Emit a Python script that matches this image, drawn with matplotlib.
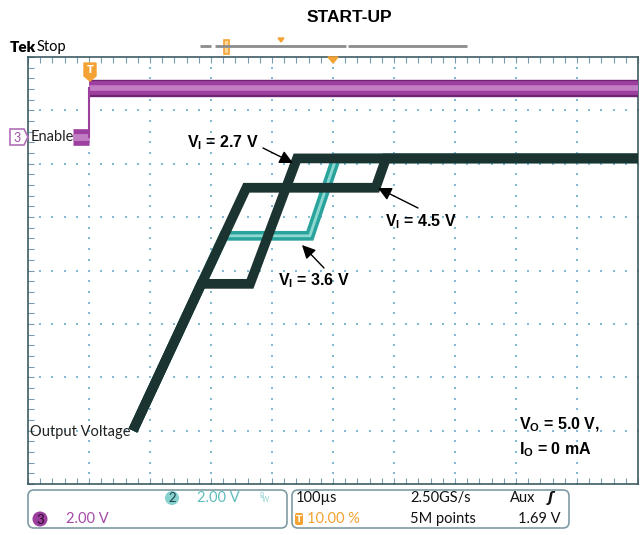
import numpy as np
import matplotlib
matplotlib.use('Agg')
import matplotlib.pyplot as plt
from matplotlib.patches import FancyBboxPatch, Polygon, Circle, Rectangle
from matplotlib.ticker import MultipleLocator

plt.rcParams['mathtext.fontset'] = 'custom'
plt.rcParams['mathtext.rm'] = 'Liberation Sans'
plt.rcParams['mathtext.bf'] = 'Liberation Sans:bold'
plt.rcParams['mathtext.it'] = 'Liberation Sans:italic'

# ---------------- data ----------------
# Enable (channel 3), time in us, volts
en_time_low = [-26, 0]
en_volt_low = [0.0, 0.0]
en_time_high = [0, 900]
en_volt_high = [1.85, 1.85]

# Output voltage traces (time in us, volts)
t_vi27 = [72, 184, 264, 341, 900]
v_vi27 = [0.0, 2.75, 2.75, 5.1, 5.1]
t_vi36 = [72, 221, 362, 405, 900]
v_vi36 = [0.0, 3.65, 3.65, 5.1, 5.1]
t_vi45 = [72, 258, 470, 487, 900]
v_vi45 = [0.0, 4.55, 4.55, 5.1, 5.1]

title = "START-UP"
lbl_27 = r"$\mathbf{V_I}$ = 2.7 V"
lbl_36 = r"$\mathbf{V_I}$ = 3.6 V"
lbl_45 = r"$\mathbf{V_I}$ = 4.5 V"
lbl_vo = r"$\mathbf{V_O}$ = 5.0 V,"
lbl_io = r"$\mathbf{I_O}$ = 0 mA"

W, H = 642, 535
BLACK_TR = '#1b3331'
CYAN_TR = '#2aa39d'
PURPLE = '#9c3f9e'
ORANGE = '#f4a233'
GRID = '#86b9d3'
NARROW = ['Lato', 'DejaVu Sans']

fig = plt.figure(figsize=(W / 100, H / 100), dpi=100)
fig.patch.set_facecolor('white')

# --------------- graticule axes ---------------
ax = fig.add_axes([28 / W, (H - 484) / H, 610 / W, 427 / H])
ax.set_xlim(-100, 900)
ax.set_ylim(-1, 7)
ax.set_facecolor('white')
for s in ax.spines.values():
    s.set_color('#3d5c62')
    s.set_linewidth(1.2)
ax.xaxis.set_major_locator(MultipleLocator(100))
ax.xaxis.set_minor_locator(MultipleLocator(20))
ax.yaxis.set_major_locator(MultipleLocator(1))
ax.yaxis.set_minor_locator(MultipleLocator(0.2))
ax.tick_params(which='both', direction='in', top=True, right=True,
               labelbottom=False, labelleft=False, color='#7a9cb0', length=4, width=0.8)

# dotted grid
for xv in np.arange(0, 900, 100):
    ys = np.arange(-1, 7.01, 0.2)
    ax.plot(np.full_like(ys, xv), ys, ls='none', marker='s', ms=1.6, mew=0, color=GRID, zorder=1)
for yv in np.arange(0, 7, 1):
    xs = np.arange(-100, 900.1, 20)
    ax.plot(xs, np.full_like(xs, yv, dtype=float), ls='none', marker='s', ms=1.6, mew=0, color=GRID, zorder=1)

# traces
ax.plot(t_vi36, v_vi36, color=CYAN_TR, lw=7, solid_joinstyle='miter', solid_capstyle='butt', zorder=3)
ax.plot(t_vi36, v_vi36, color='#8ed8d2', lw=2.0, solid_joinstyle='miter', solid_capstyle='butt', zorder=3)
for tt, vv in [(t_vi27, v_vi27), (t_vi45, v_vi45)]:
    ax.plot(tt, vv, color=BLACK_TR, lw=7, solid_joinstyle='miter', solid_capstyle='butt', zorder=4)

# enable on its own scale (2 V/div)
ax_en = ax.twinx()
ax_en.set_ylim(-13, 3)
ax_en.axis('off')
ax_en.plot(en_time_low, en_volt_low, color=PURPLE, lw=12, solid_capstyle='butt')
ax_en.plot(en_time_low, en_volt_low, color='#c27cc4', lw=5, solid_capstyle='butt')
ax_en.plot(en_time_high, en_volt_high, color='#6e2472', lw=12.5, solid_capstyle='butt')
ax_en.plot(en_time_high, en_volt_high, color=PURPLE, lw=10, solid_capstyle='butt')
ax_en.plot(en_time_high, en_volt_high, color='#c27cc4', lw=4, solid_capstyle='butt')
ax_en.plot([en_time_low[1], en_time_high[0]], [en_volt_low[1], en_volt_high[0]],
           color=PURPLE, lw=1.5)

# --------------- overlay (pixel coords) ---------------
ov = fig.add_axes([0, 0, 1, 1], zorder=5)
ov.set_xlim(0, W)
ov.set_ylim(H, 0)
ov.axis('off')
ov.patch.set_alpha(0)

ov.text(349, 17, title, ha='center', va='center', fontsize=12.5, fontweight='bold',
        family='Liberation Sans')

# Tek Stop
ov.text(10, 47, "Tek", ha='left', va='center', fontsize=11, fontweight='heavy', family=NARROW)
ov.text(37, 47, "Stop", ha='left', va='center', fontsize=10.5, family=NARROW)

# top status bar
ov.plot([200, 211], [46, 46], color='#8c8c8c', lw=2, solid_capstyle='butt')
ov.plot([215, 346], [46, 46], color='#8c8c8c', lw=2, solid_capstyle='butt')
ov.plot([348, 467], [46, 46], color='#8c8c8c', lw=2, solid_capstyle='butt')
ov.add_patch(Rectangle((223.5, 40), 5, 14, facecolor='#fbd79a', edgecolor=ORANGE, lw=1.2))
ov.add_patch(Polygon([[278, 38], [284, 38], [281, 42]], closed=True, color=ORANGE))
ov.add_patch(Polygon([[328, 57], [338, 57], [333, 63]], closed=True, color=ORANGE, zorder=6))

# trigger T marker
ov.add_patch(Polygon([[84, 63], [96, 63], [96, 76], [90, 81], [84, 76]], closed=True,
                     facecolor=ORANGE, edgecolor=ORANGE))
ov.text(90, 70, "T", ha='center', va='center', fontsize=7, color='white', fontweight='bold')

# Enable label
ov.add_patch(Polygon([[10, 129], [24, 129], [28, 137], [24, 145], [10, 145]], closed=True,
                     facecolor='white', edgecolor='#b070b8', lw=1.2))
ov.text(17, 137.5, "3", ha='center', va='center', fontsize=9, color='#a050a8', family=NARROW)
ov.text(31, 137, "Enable", ha='left', va='center', fontsize=10.5, color='#222222', family=NARROW)

# Output voltage label
ov.text(30, 432, "Output Voltage", ha='left', va='center', fontsize=10.5, color='#222222', family=NARROW)

# annotations
akw = dict(arrowstyle='-|>', color='black', lw=1.0, mutation_scale=20, shrinkA=0, shrinkB=0)
afs = 11.5
ov.text(187, 143, lbl_27, ha='left', va='center', fontsize=afs, fontweight='bold', family='Liberation Sans')
ov.annotate('', xy=(293, 163), xytext=(263, 148), arrowprops=akw)
ov.text(278, 281, lbl_36, ha='left', va='center', fontsize=afs, fontweight='bold', family='Liberation Sans')
ov.annotate('', xy=(302, 245), xytext=(324, 268), arrowprops=akw)
ov.text(385, 222, lbl_45, ha='left', va='center', fontsize=afs, fontweight='bold', family='Liberation Sans')
ov.annotate('', xy=(378, 188), xytext=(418, 208), arrowprops=akw)
ov.text(519, 425, lbl_vo, ha='left', va='center', fontsize=afs, fontweight='bold', family='Liberation Sans')
ov.text(519, 450, lbl_io, ha='left', va='center', fontsize=afs, fontweight='bold', family='Liberation Sans')

# bottom info boxes
box_kw = dict(boxstyle='round,pad=0,rounding_size=6', facecolor='none', edgecolor='#7f9ba3', lw=1.2)
ov.add_patch(FancyBboxPatch((28, 490), 259, 38, **box_kw))
ov.add_patch(FancyBboxPatch((292, 490), 277, 38, **box_kw))

ov.add_patch(Circle((172, 498), 7, facecolor='#86d0cf', edgecolor='none'))
ov.text(172, 498.5, "2", ha='center', va='center', fontsize=9.5, color='#1d4444', family=NARROW)
ov.text(197, 498, "2.00 V", ha='left', va='center', fontsize=10.5, color='#5cbdbb', family=NARROW)
ov.text(259, 495, "B", ha='left', va='center', fontsize=5, color='#8fd0cf', family=NARROW)
ov.text(262, 500, "W", ha='left', va='center', fontsize=5, color='#8fd0cf', family=NARROW)

ov.add_patch(Circle((40, 519), 7.5, facecolor='#9a3d9c', edgecolor='none'))
ov.text(40, 519.5, "3", ha='center', va='center', fontsize=9.5, color='#2a0a2a', family=NARROW)
ov.text(66, 519, "2.00 V", ha='left', va='center', fontsize=10.5, color='#a548a8', family=NARROW)

ov.text(296, 498, "100\u00b5s", ha='left', va='center', fontsize=10.5, color='#111111', family=NARROW)
ov.text(410, 498, "2.50GS/s", ha='left', va='center', fontsize=10.5, color='#111111', family=NARROW)
ov.text(510, 498, "Aux", ha='left', va='center', fontsize=10.5, color='#111111', family=NARROW)
ov.text(548, 498, "\u0283", ha='left', va='center', fontsize=10, color='#111111', style='italic',
        fontweight='bold', family=['DejaVu Sans'])

ov.add_patch(FancyBboxPatch((295, 513), 8, 12, boxstyle='round,pad=0,rounding_size=2',
                            facecolor=ORANGE, edgecolor='none'))
ov.text(299, 519, "T", ha='center', va='center', fontsize=6.5, color='white', fontweight='bold')
ov.text(307, 519, "10.00 %", ha='left', va='center', fontsize=10.5, color=ORANGE, family=NARROW)
ov.text(410, 519, "5M points", ha='left', va='center', fontsize=10.5, color='#111111', family=NARROW)
ov.text(560, 519, "1.69 V", ha='right', va='center', fontsize=10.5, color='#111111', family=NARROW)

fig.savefig('out.png', dpi=100, facecolor='white')
